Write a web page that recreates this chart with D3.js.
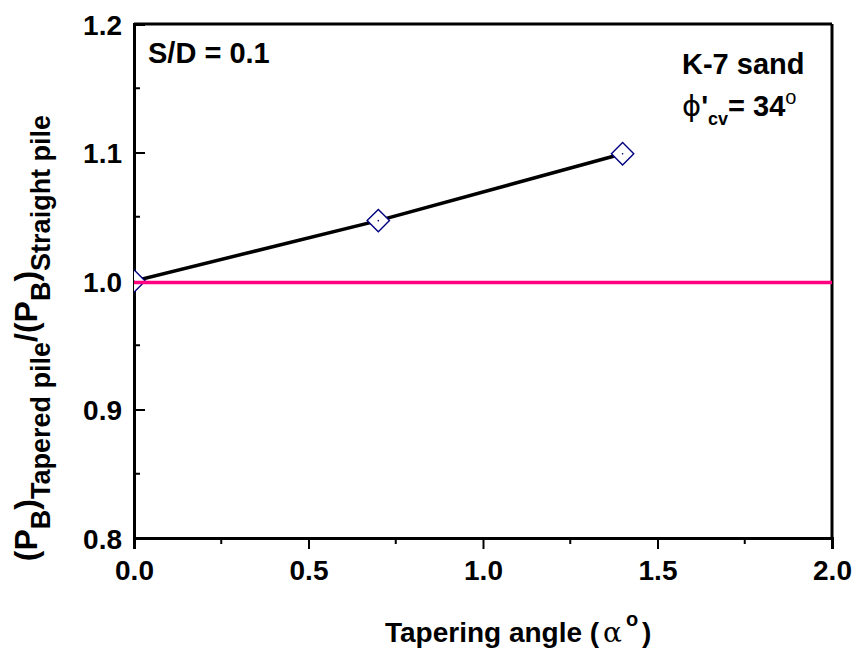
<!DOCTYPE html>
<html>
<head>
<meta charset="utf-8">
<script src="https://cdn.jsdelivr.net/npm/d3@7"></script>
<style>
  body { margin: 0; background: #fff; }
  text { font-family: Arial, "Liberation Sans", sans-serif; font-weight: bold; fill: #000; }
</style>
</head>
<body>
<div id="chart"></div>
<script>
// data
const taperAngle = [0, 0.7, 1.4]
const capacityRatio = [1.0, 1.047, 1.099]
const straightRef = [{x: 0, y: 1.0}, {x: 2.0, y: 1.0}]
const xTicks = [0, 0.5, 1.0, 1.5, 2.0]
const yTicks = [0.8, 0.9, 1.0, 1.1, 1.2]
const xMinor = [0.25, 0.75, 1.25, 1.75]
const yMinor = [0.85, 0.95, 1.05, 1.15]

const W = 856, H = 657
const margin = {top: 24, right: 24, bottom: 119, left: 134}
const iw = W - margin.left - margin.right,
      ih = H - margin.top - margin.bottom

const svg = d3.select('#chart').append('svg')
  .attr('width', W).attr('height', H)

const g = svg.append('g').attr('transform', `translate(${margin.left},${margin.top})`)

const x = d3.scaleLinear().domain([0, 2.0]).range([0, iw])
const y = d3.scaleLinear().domain([0.8, 1.2]).range([ih, 0])

g.append('clipPath').attr('id', 'plot-clip')
  .append('rect').attr('width', iw).attr('height', ih)

// bottom axis: ticks point outward
const xAxis = g.append('g').attr('transform', `translate(0,${ih})`)
  .call(d3.axisBottom(x).tickValues(xTicks).tickFormat(d3.format('.1f')).tickSize(11).tickPadding(4))
xAxis.append('g').selectAll('line').data(xMinor).join('line')
  .attr('x1', d => x(d)).attr('x2', d => x(d)).attr('y1', 0).attr('y2', 6)
  .attr('stroke', '#000').attr('stroke-width', 2)

// left axis: ticks point inward
const yAxis = g.append('g')
  .call(d3.axisLeft(y).tickValues(yTicks).tickFormat(d3.format('.1f')).tickSize(-11).tickPadding(12))
yAxis.append('g').selectAll('line').data(yMinor).join('line')
  .attr('y1', d => y(d)).attr('y2', d => y(d)).attr('x1', 0).attr('x2', 6)
  .attr('stroke', '#000').attr('stroke-width', 2)

;[xAxis, yAxis].forEach(a => {
  a.select('.domain').attr('stroke', '#000').attr('stroke-width', 3)
  a.selectAll('.tick line').attr('stroke', '#000').attr('stroke-width', 2)
  a.selectAll('.tick text').style('font-size', '28px').style('font-weight', 'bold')
    .style('font-family', 'Arial, "Liberation Sans", sans-serif').attr('fill', '#000')
})
yAxis.selectAll('.tick text').attr('dy', '0.36em')
xAxis.selectAll('.tick text').attr('dy', '0.95em')

// top and right frame
g.append('line').attr('x1', 0).attr('x2', iw).attr('y1', 0).attr('y2', 0)
  .attr('stroke', '#000').attr('stroke-width', 3)
g.append('line').attr('x1', iw).attr('x2', iw).attr('y1', 0).attr('y2', ih)
  .attr('stroke', '#000').attr('stroke-width', 3)

const plot = g.append('g').attr('clip-path', 'url(#plot-clip)')

const pts = taperAngle.map((d, i) => ({x: d, y: capacityRatio[i]}))
const line = d3.line().x(d => x(d.x)).y(d => y(d.y))

plot.append('path').datum(pts).attr('d', line)
  .attr('fill', 'none').attr('stroke', '#000').attr('stroke-width', 3.5)

const sym = d3.symbol().type(d3.symbolSquare).size(250)
const marks = plot.selectAll('.mark').data(pts).join('g')
  .attr('class', 'mark')
  .attr('transform', d => `translate(${x(d.x)},${y(d.y)}) rotate(45)`)
marks.append('path').attr('d', sym)
  .attr('fill', '#fff').attr('stroke', '#000080').attr('stroke-width', 1.4)
marks.append('circle').attr('r', 0.8).attr('fill', '#000080')

g.append('path').datum(straightRef).attr('d', line)
  .attr('transform', 'translate(0,1.5)')
  .attr('fill', 'none').attr('stroke', '#ff0080').attr('stroke-width', 3.5)

// annotations
g.append('text').attr('x', 14).attr('y', 39).style('font-size', '29px').text('S/D = 0.1')
g.append('text').attr('x', 548).attr('y', 50).style('font-size', '29px').text('K-7 sand')
const phi = g.append('text').attr('x', 548).attr('y', 92).style('font-size', '29px')
phi.append('tspan').style('font-family', '"DejaVu Sans", sans-serif').style('font-weight', 'normal').text('\u03d5')
phi.append('tspan').text("'")
phi.append('tspan').attr('y', 101).style('font-size', '18px').text('cv')
phi.append('tspan').attr('y', 92).text('= 34')
phi.append('tspan').attr('y', 80).style('font-size', '20px').style('font-weight', 'normal').text('o')

// x title, each piece as its own text
svg.append('text').attr('x', 385).attr('y', 642).style('font-size', '28px').text('Tapering angle (')
svg.append('text').attr('x', 603).attr('y', 642).style('font-size', '28px')
  .style('font-family', '"DejaVu Serif", serif').style('font-weight', 'normal').text('\u03b1')
svg.append('text').attr('x', 626).attr('y', 626).style('font-size', '20px').text('o')
svg.append('text').attr('x', 642).attr('y', 642).style('font-size', '28px').text(')')

const yt = svg.append('text').attr('transform', 'translate(37,338) rotate(-90)')
  .attr('text-anchor', 'middle').style('font-size', '32px')
yt.append('tspan').text('(P')
yt.append('tspan').attr('dy', 13).style('font-size', '27px').text('B')
yt.append('tspan').attr('dy', -13).text(')')
yt.append('tspan').attr('dy', 13).style('font-size', '27px').text('Tapered pile')
yt.append('tspan').attr('dy', -13).text('/(P')
yt.append('tspan').attr('dy', 13).style('font-size', '27px').text('B')
yt.append('tspan').attr('dy', -13).text(')')
yt.append('tspan').attr('dy', 13).style('font-size', '27px').text('Straight pile')
</script>
</body>
</html>
